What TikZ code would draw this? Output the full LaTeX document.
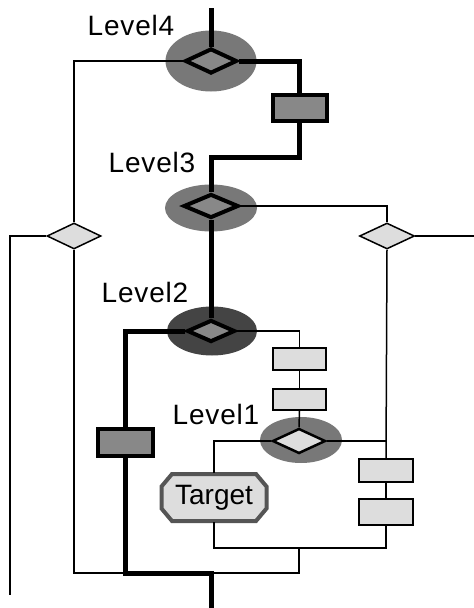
\documentclass[tikz,border=0pt]{standalone}
\usepackage{fontspec}
\setmainfont{Liberation Sans}
\usetikzlibrary{shapes.geometric}
\definecolor{haloGray}{RGB}{120,120,120}
\definecolor{haloDark}{RGB}{68,68,68}
\definecolor{midGray}{RGB}{136,136,136}
\definecolor{lightGray}{RGB}{221,221,221}
\definecolor{tgtBorder}{RGB}{85,85,85}
\tikzset{
  thinline/.style={line width=1.5pt},
  boldline/.style={line width=5pt},
  halo/.style={ellipse, fill=#1, inner sep=0pt, draw=none},
  bigdiam/.style={diamond, draw, line width=4pt, fill=midGray, inner sep=0pt},
  smalldiam/.style={diamond, draw, line width=1.5pt, fill=lightGray, inner sep=0pt},
  lvldiam/.style={diamond, draw, line width=2.5pt, fill=lightGray, inner sep=0pt},
  darkbox/.style={rectangle, draw, line width=4pt, fill=midGray, inner sep=0pt},
  lightbox/.style={rectangle, draw, line width=2pt, fill=lightGray, inner sep=0pt},
  lbl/.style={font=\fontsize{28}{30}\selectfont\addfontfeature{LetterSpace=3}, inner sep=0pt},
  octa/.style={draw=tgtBorder, line width=4pt, fill=lightGray, line join=miter},
  tgttext/.style={rectangle, inner sep=0pt, minimum width=108pt, minimum height=49pt,
     font=\fontsize{28}{30}\selectfont}
}
\begin{document}
\begin{tikzpicture}[x=1pt,y=-1pt]
\useasboundingbox (0,0) rectangle (474,608);
% halos
\node[halo=haloGray, minimum width=91pt, minimum height=61pt] (h4) at (211,61) {};
\node[halo=haloGray, minimum width=92pt, minimum height=47pt] (h3) at (211,208) {};
\node[halo=haloDark, minimum width=90pt, minimum height=49pt] (h2) at (212,331) {};
\node[halo=haloGray, minimum width=82pt, minimum height=46pt] (h1) at (301,440) {};
% diamonds
\node[bigdiam, minimum width=52pt, minimum height=25pt] (d4) at (211,61) {};
\node[bigdiam, minimum width=55pt, minimum height=24pt] (d3) at (211,206) {};
\node[bigdiam, minimum width=48pt, minimum height=22pt] (d2) at (211,331) {};
\node[lvldiam, minimum width=53pt, minimum height=25pt] (d1) at (299,441) {};
\node[smalldiam, minimum width=54pt, minimum height=26pt] (dl) at (74,236) {};
\node[smalldiam, minimum width=55pt, minimum height=26pt] (dr) at (387,236) {};
% boxes
\node[darkbox, minimum width=54pt, minimum height=26pt] (r4) at (299.5,108) {};
\node[darkbox, minimum width=55pt, minimum height=27pt] (r2) at (125.5,442.5) {};
\node[lightbox, minimum width=53pt, minimum height=22pt] (b1) at (299.5,359) {};
\node[lightbox, minimum width=53pt, minimum height=21pt] (b2) at (299.5,399.5) {};
\node[lightbox, minimum width=54pt, minimum height=23pt] (b3) at (386,470.5) {};
\node[lightbox, minimum width=54pt, minimum height=26pt] (b4) at (386,512) {};
% target octagon
\coordinate (tgc) at (214,497.5);
\draw[octa] ([shift={(-42,-23.5)}]tgc) -- ([shift={(42,-23.5)}]tgc) -- ([shift={(52.5,-11)}]tgc)
   -- ([shift={(52.5,11)}]tgc) -- ([shift={(42,23.5)}]tgc) -- ([shift={(-42,23.5)}]tgc)
   -- ([shift={(-52.5,11)}]tgc) -- ([shift={(-52.5,-11)}]tgc) -- cycle;
\node[tgttext] (tg) at (tgc) {Target};
% labels
\node[lbl] (l4) at (131,25) {Level4};
\node[lbl] (l3) at (152,162) {Level3};
\node[lbl] (l2) at (145,292) {Level2};
\node[lbl] (l1) at (216,414) {Level1};
% free ends
\coordinate (top) at (211,8);
\coordinate (bot) at (211,608);
\coordinate (rightend) at (474,236);
\coordinate (leftend) at (10,595);
% bold path
\draw[boldline] (top) -- (d4.north);
\draw[boldline] (d4.east) -| (r4.north);
\draw[boldline] (r4.south) |- (211,157) -- (d3.north);
\draw[boldline] (d3.south) -- (d2.north);
\draw[boldline] (d2.west) -| (r2.north);
\draw[boldline] (r2.south) |- (211,573) -- (bot);
% thin connectors
\draw[thinline] (d4.west) -| (dl.north);
\draw[thinline] (dl.west) -| (leftend);
\draw[thinline] (dl.south) |- (125,573);
\draw[thinline] (d3.east) -| (dr.north);
\draw[thinline] (dr.east) -- (rightend);
\draw[thinline] (dr.south) -- (b3.north);
\draw[thinline] (b3.south) -- (b4.north);
\draw[thinline] (d2.east) -| (b1.north);
\draw[thinline] (b1.south) -- (b2.north);
\draw[thinline] (b2.south) -- (d1.north);
\draw[thinline] (d1.west) -| (tg.north);
\draw[thinline] (d1.east) -- (386,441);
\draw[thinline] (tg.south) |- (b4.south |- 0,548) -- (b4.south);
\draw[thinline] (299,548) |- (211,573);
\end{tikzpicture}
\end{document}
